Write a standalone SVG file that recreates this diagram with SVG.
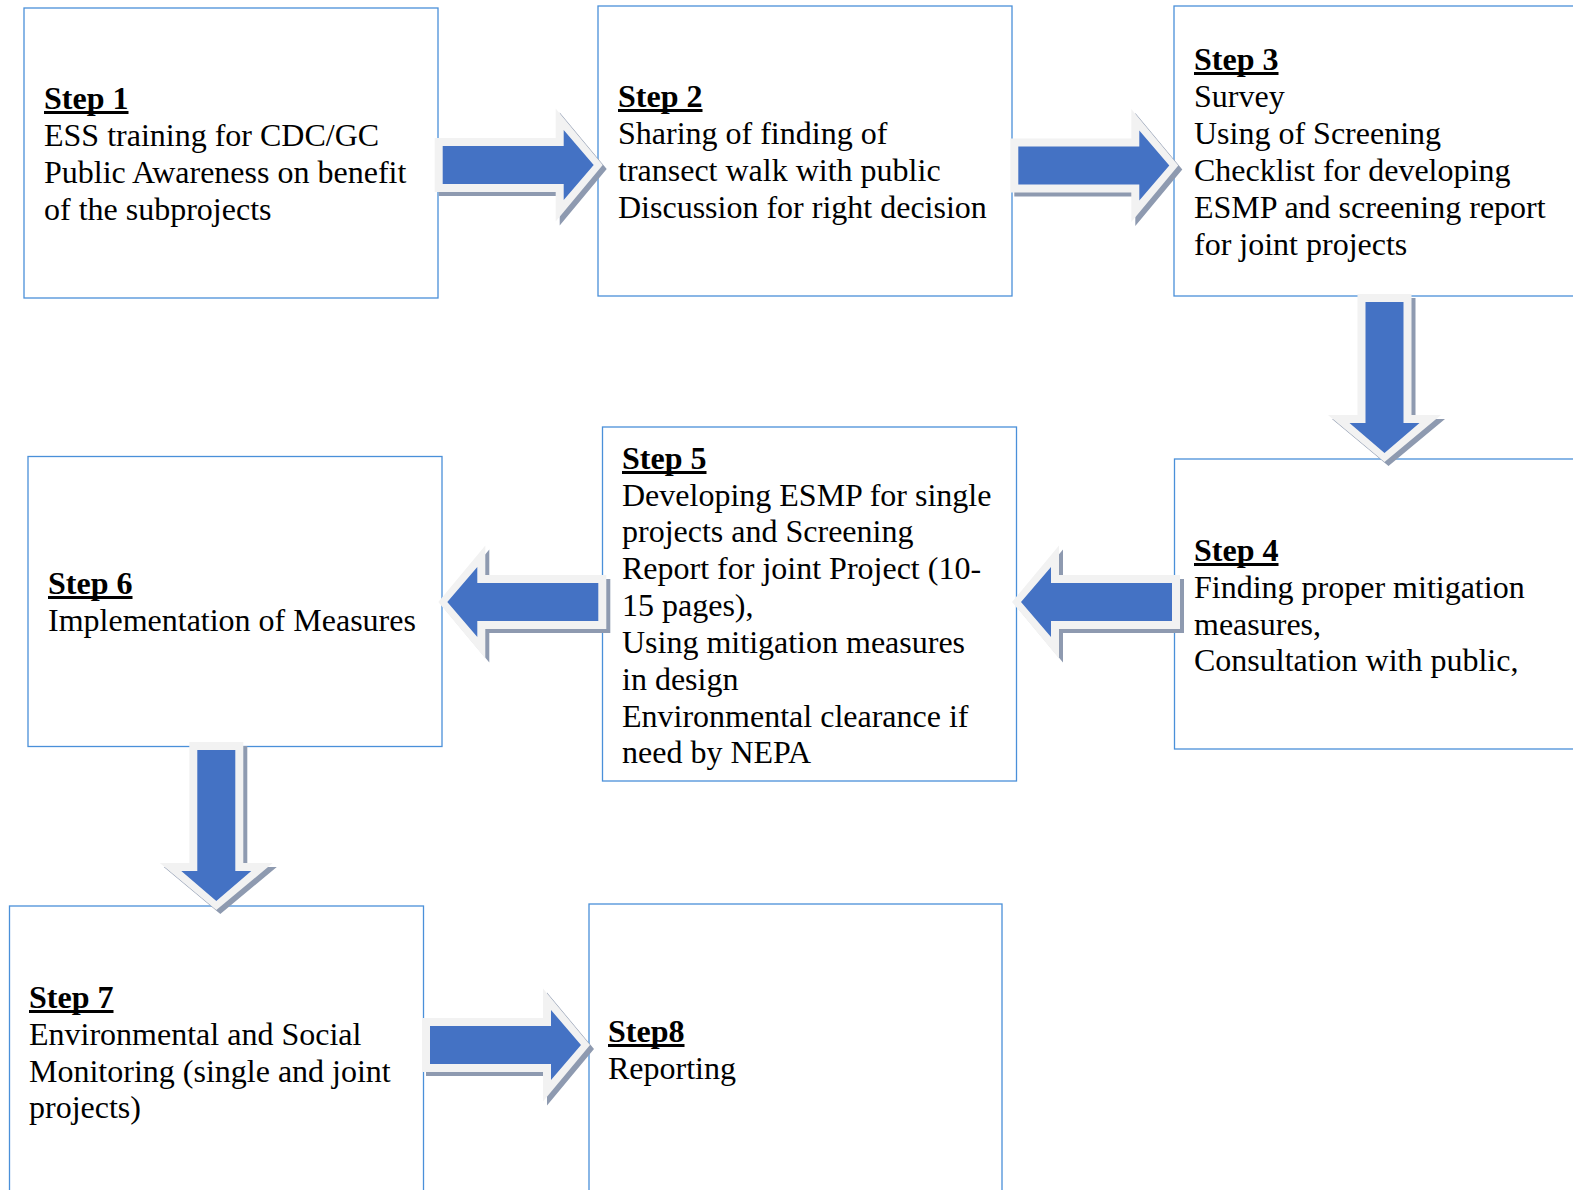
<svg xmlns="http://www.w3.org/2000/svg" xmlns:xlink="http://www.w3.org/1999/xlink" width="1573" height="1190" viewBox="0 0 1573 1190">
<style>
.box{fill:#ffffff;stroke:#4a90d9;stroke-width:1.3}
.t{font-family:"Liberation Serif","Times New Roman",serif;font-size:32px;fill:#000000}
.h{font-weight:bold}
.ul{fill:#000000}
.blue{fill:#4472c4}
.outer{fill:#f2f2f2}
.shadow{fill:#8e9ab0}
</style>
<defs>
<path id="ar-outer" d="M-8,-27 L113,-27 L113,-56.5 L160,0 L113,56.5 L113,27 L-8,27 Z"/>
<path id="ar-blue" d="M0,-19 L121,-19 L121,-35 L151,0 L121,35 L121,19 L0,19 Z"/>
</defs>
<rect width="1573" height="1190" fill="#ffffff"/>
<g id="step1">
<rect class="box" x="24" y="8" width="414" height="290"/>
<text class="t" x="44" y="109"><tspan class="h">Step 1</tspan><tspan x="44" y="146">ESS training for CDC/GC</tspan><tspan x="44" y="183">Public Awareness on benefit</tspan><tspan x="44" y="220">of the subprojects</tspan></text>
<rect class="ul" x="44" y="111" width="84.5" height="3"/>
</g>
<g id="step2">
<rect class="box" x="598" y="6" width="414" height="290"/>
<text class="t" x="618" y="107"><tspan class="h">Step 2</tspan><tspan x="618" y="144">Sharing of finding of</tspan><tspan x="618" y="181">transect walk with public</tspan><tspan x="618" y="218">Discussion for right decision</tspan></text>
<rect class="ul" x="618" y="109" width="84.5" height="3"/>
</g>
<g id="step3">
<rect class="box" x="1174" y="6" width="414" height="290"/>
<text class="t" x="1194" y="70"><tspan class="h">Step 3</tspan><tspan x="1194" y="107">Survey</tspan><tspan x="1194" y="144">Using of Screening</tspan><tspan x="1194" y="181">Checklist for developing</tspan><tspan x="1194" y="218">ESMP and screening report</tspan><tspan x="1194" y="255">for joint projects</tspan></text>
<rect class="ul" x="1194" y="72" width="84.5" height="3"/>
</g>
<g id="step4">
<rect class="box" x="1174.5" y="459" width="414" height="290"/>
<text class="t" x="1194" y="561"><tspan class="h">Step 4</tspan><tspan x="1194" y="598">Finding proper mitigation</tspan><tspan x="1194" y="635">measures,</tspan><tspan x="1194" y="671">Consultation with public,</tspan></text>
<rect class="ul" x="1194" y="563" width="84.5" height="3"/>
</g>
<g id="step5">
<rect class="box" x="602.5" y="427" width="414" height="354"/>
<text class="t" x="622" y="469"><tspan class="h">Step 5</tspan><tspan x="622" y="506">Developing ESMP for single</tspan><tspan x="622" y="542">projects and Screening</tspan><tspan x="622" y="579">Report for joint Project (10-</tspan><tspan x="622" y="616">15 pages),</tspan><tspan x="622" y="653">Using mitigation measures</tspan><tspan x="622" y="690">in design</tspan><tspan x="622" y="727">Environmental clearance if</tspan><tspan x="622" y="763">need by NEPA</tspan></text>
<rect class="ul" x="622" y="471" width="84.5" height="3"/>
</g>
<g id="step6">
<rect class="box" x="28" y="456.5" width="414" height="290"/>
<text class="t" x="48" y="594"><tspan class="h">Step 6</tspan><tspan x="48" y="631">Implementation of Measures</tspan></text>
<rect class="ul" x="48" y="596" width="84.5" height="3"/>
</g>
<g id="step7">
<rect class="box" x="9.5" y="906" width="414" height="300"/>
<text class="t" x="29" y="1008"><tspan class="h">Step 7</tspan><tspan x="29" y="1045">Environmental and Social</tspan><tspan x="29" y="1082">Monitoring (single and joint</tspan><tspan x="29" y="1118">projects)</tspan></text>
<rect class="ul" x="29" y="1010" width="84.5" height="3"/>
</g>
<g id="step8">
<rect class="box" x="589" y="904" width="413" height="300"/>
<text class="t" x="608" y="1042"><tspan class="h">Step8</tspan><tspan x="608" y="1079">Reporting</tspan></text>
<rect class="ul" x="608" y="1044" width="76.5" height="3"/>
</g>
<g id="connectors">
<g id="a1-2">
<use xlink:href="#ar-outer" class="shadow" transform="translate(446.7,169)"/>
<use xlink:href="#ar-outer" class="outer" transform="translate(442.7,165)"/>
<use xlink:href="#ar-blue" class="blue" transform="translate(442.7,165)"/>
</g>
<g id="a2-3">
<use xlink:href="#ar-outer" class="shadow" transform="translate(1022.3,169.5)"/>
<use xlink:href="#ar-outer" class="outer" transform="translate(1018.3,165.5)"/>
<use xlink:href="#ar-blue" class="blue" transform="translate(1018.3,165.5)"/>
</g>
<g id="a3-4">
<use xlink:href="#ar-outer" class="shadow" transform="translate(1388.5,306) rotate(90)"/>
<use xlink:href="#ar-outer" class="outer" transform="translate(1384.5,302) rotate(90)"/>
<use xlink:href="#ar-blue" class="blue" transform="translate(1384.5,302) rotate(90)"/>
</g>
<g id="a4-5">
<use xlink:href="#ar-outer" class="shadow" transform="translate(1176,606) scale(-1,1)"/>
<use xlink:href="#ar-outer" class="outer" transform="translate(1172,602) scale(-1,1)"/>
<use xlink:href="#ar-blue" class="blue" transform="translate(1172,602) scale(-1,1)"/>
</g>
<g id="a5-6">
<use xlink:href="#ar-outer" class="shadow" transform="translate(602.3,606) scale(-1,1)"/>
<use xlink:href="#ar-outer" class="outer" transform="translate(598.3,602) scale(-1,1)"/>
<use xlink:href="#ar-blue" class="blue" transform="translate(598.3,602) scale(-1,1)"/>
</g>
<g id="a6-7">
<use xlink:href="#ar-outer" class="shadow" transform="translate(220.3,754) rotate(90)"/>
<use xlink:href="#ar-outer" class="outer" transform="translate(216.3,750) rotate(90)"/>
<use xlink:href="#ar-blue" class="blue" transform="translate(216.3,750) rotate(90)"/>
</g>
<g id="a7-8">
<use xlink:href="#ar-outer" class="shadow" transform="translate(434,1049)"/>
<use xlink:href="#ar-outer" class="outer" transform="translate(430,1045)"/>
<use xlink:href="#ar-blue" class="blue" transform="translate(430,1045)"/>
</g>
</g>
</svg>
